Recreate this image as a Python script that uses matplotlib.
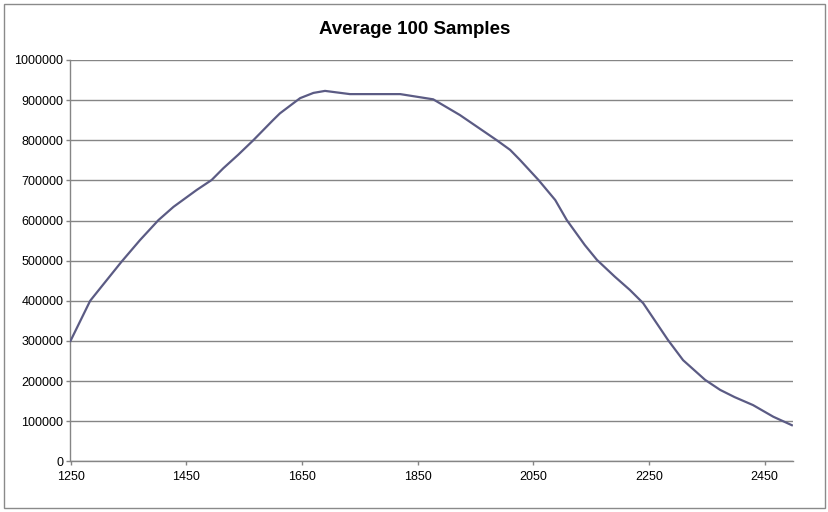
import matplotlib
matplotlib.use("Agg")
import matplotlib.pyplot as plt
from matplotlib.patches import Rectangle

# -----------------------------------------------------------------------------
# Data
# -----------------------------------------------------------------------------
x_vals = [1250, 1284, 1304, 1338, 1370, 1402, 1428, 1468, 1494, 1514, 1540,
          1566, 1600, 1612, 1635, 1647, 1670, 1690, 1733, 1750, 1820, 1877,
          1923, 1987, 2010, 2027, 2059, 2088, 2108, 2139, 2160, 2191, 2217,
          2240, 2283, 2309, 2347, 2373, 2398, 2430, 2465, 2497]
y_thousands = [300, 400, 436, 497, 551, 601, 634, 676, 701, 730, 764,
               800, 850, 867, 892, 905, 918, 923, 915, 915, 915, 902,
               863, 800, 776, 751, 701, 651, 601, 539, 502, 460, 427,
               394, 302, 252, 203, 178, 160, 140, 111, 90]
y_vals = [v * 1000 for v in y_thousands]

x_ticks = [1250, 1450, 1650, 1850, 2050, 2250, 2450]
y_ticks = list(range(0, 1000001, 100000))

TITLE = "Average 100 Samples"

# -----------------------------------------------------------------------------
# Style
# -----------------------------------------------------------------------------
plt.rcParams.update({
    "font.family": ["Liberation Sans", "DejaVu Sans"],
    "font.size": 9,
})

LINE_COLOR = "#5b5b84"
GRID_COLOR = "#858585"
AXIS_COLOR = "#858585"

W, H = 829, 512
fig = plt.figure(figsize=(W / 100, H / 100), dpi=100)
fig.patch.set_facecolor("white")

# outer chart border
fig.patches.append(Rectangle((4 / W, 4 / H), (825 - 4) / W, (508 - 4) / H,
                             transform=fig.transFigure, fill=False,
                             edgecolor="#8a8a8a", linewidth=1.0))

left, right = 70.5 / W, 793 / W
bottom, top = 1 - 461.3 / H, 1 - 60 / H
ax = fig.add_axes([left, bottom, right - left, top - bottom])

ax.plot(x_vals, y_vals, color=LINE_COLOR, linewidth=1.6, zorder=3)

ax.set_xlim(1250, 2499)
ax.set_ylim(0, 1000000)
ax.set_xticks(x_ticks)
ax.set_yticks(y_ticks)
ax.set_xticklabels([str(v) for v in x_ticks])
ax.set_yticklabels([str(v) for v in y_ticks])

ax.grid(True, axis="y", color=GRID_COLOR, linewidth=1.0)
ax.set_axisbelow(True)

for s in ["top", "right"]:
    ax.spines[s].set_visible(False)
for s in ["left", "bottom"]:
    ax.spines[s].set_color(AXIS_COLOR)
    ax.spines[s].set_linewidth(1.0)

ax.tick_params(axis="both", direction="out", length=3, width=1.0,
               color=AXIS_COLOR, labelcolor="black", labelsize=9)
ax.tick_params(axis="x", pad=4)
ax.tick_params(axis="y", pad=2)

fig.text(415 / W, 1 - 29 / H, TITLE, ha="center", va="center",
         fontsize=13.5, fontweight="bold")

fig.savefig("out.png", dpi=100)
plt.close(fig)
